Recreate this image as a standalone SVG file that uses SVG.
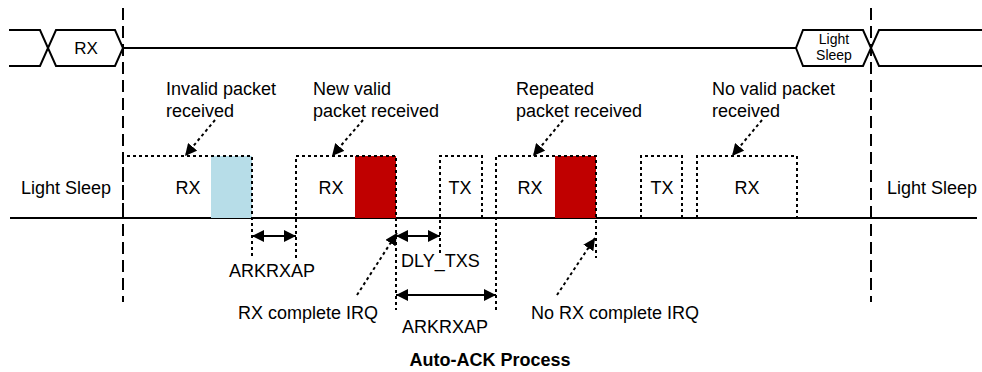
<svg xmlns="http://www.w3.org/2000/svg" width="982" height="372" viewBox="0 0 982 372">
<style>
text{font-family:"Liberation Sans",Arial,sans-serif;font-size:18px;fill:#000}
.c{text-anchor:middle}
.sig{fill:none;stroke:#000;stroke-width:2}
.dash{fill:none;stroke:#000;stroke-width:2;stroke-dasharray:12,6}
.dot{fill:none;stroke:#000;stroke-width:2;stroke-dasharray:3,3}
.dim{fill:none;stroke:#000;stroke-width:2;marker-start:url(#ah);marker-end:url(#ah)}
.pt{fill:none;stroke:#000;stroke-width:2;stroke-dasharray:3,3;marker-end:url(#ah)}
</style>
<defs>
<marker id="ah" markerUnits="userSpaceOnUse" markerWidth="13" markerHeight="12" refX="12" refY="6" orient="auto-start-reverse" viewBox="0 0 13 12">
<path d="M0,0 L12,6 L0,12 z" fill="#000" stroke="none"/>
</marker>
</defs>
<rect width="982" height="372" fill="#fff"/>
<g id="top-signal">
<path class="sig" d="M9,30 H40 L56,66 H115 L123,48 L115,30 H56 L40,66 H9"/>
<path class="sig" d="M123,48 H796 L803,30 H863 L879,66 H982 M796,48 L803,66 H863 L879,30 H982"/>
<text class="c" x="86" y="54" style="font-size:17px">RX</text>
<text class="c" x="834" y="44" style="font-size:14px">Light</text>
<text class="c" x="834" y="60" style="font-size:14px">Sleep</text>
</g>
<g id="baseline">
<line class="sig" x1="10" y1="218" x2="977" y2="218"/>
<line class="dash" x1="123" y1="8" x2="123" y2="302"/>
<line class="dash" x1="871" y1="8" x2="871" y2="302"/>
</g>
<g id="sleep-left"><text x="21" y="194">Light Sleep</text></g>
<g id="sleep-right"><text x="887" y="194">Light Sleep</text></g>
<g id="rx1">
<rect x="211" y="156" width="41" height="62" fill="#b7dde8"/>
<path class="dot" d="M123,218 V156 H252 V258"/>
<text class="c" x="188" y="194">RX</text>
</g>
<g id="rx2">
<rect x="355" y="156" width="41" height="62" fill="#c00000"/>
<path class="dot" d="M296,258 V156 H396 V310"/>
<text class="c" x="331" y="194">RX</text>
</g>
<g id="tx1">
<path class="dot" d="M440,253 V156 H482 V218"/>
<text class="c" x="460" y="194">TX</text>
</g>
<g id="rx3">
<rect x="555" y="156" width="41" height="62" fill="#c00000"/>
<path class="dot" d="M496,310 V156 H596 V258"/>
<text class="c" x="530" y="194">RX</text>
</g>
<g id="tx2">
<path class="dot" d="M641,218 V156 H682 V218"/>
<text class="c" x="662" y="194">TX</text>
</g>
<g id="rx4">
<path class="dot" d="M697,218 V156 H797 V218"/>
<text class="c" x="747" y="194">RX</text>
</g>
<g id="labels">
<text x="166" y="95">Invalid packet</text>
<text x="166" y="117">received</text>
<text x="313" y="95">New valid</text>
<text x="313" y="117">packet received</text>
<text x="516" y="95">Repeated</text>
<text x="516" y="117">packet received</text>
<text x="712" y="95">No valid packet</text>
<text x="712" y="117">received</text>
<text class="c" x="272" y="277">ARKRXAP</text>
<text x="401" y="267">DLY_TXS</text>
<text class="c" x="445" y="333">ARKRXAP</text>
<text class="c" x="308" y="319">RX complete IRQ</text>
<text class="c" x="615" y="319">No RX complete IRQ</text>
<text class="c" x="490" y="366" style="font-weight:bold;font-size:18px">Auto-ACK Process</text>
</g>
<g id="connectors">
<line class="dim" x1="252" y1="236" x2="296" y2="236"/>
<line class="dim" x1="396" y1="236" x2="440" y2="236"/>
<line class="dim" x1="396" y1="295" x2="496" y2="295"/>
<line class="pt" x1="215" y1="120" x2="185" y2="156"/>
<line class="pt" x1="363" y1="120" x2="332" y2="156"/>
<line class="pt" x1="563" y1="120" x2="533" y2="156"/>
<line class="pt" x1="762" y1="120" x2="732" y2="156"/>
<line class="pt" x1="357" y1="295" x2="397" y2="233"/>
<line class="pt" x1="557" y1="295" x2="595" y2="238"/>
</g>
</svg>
